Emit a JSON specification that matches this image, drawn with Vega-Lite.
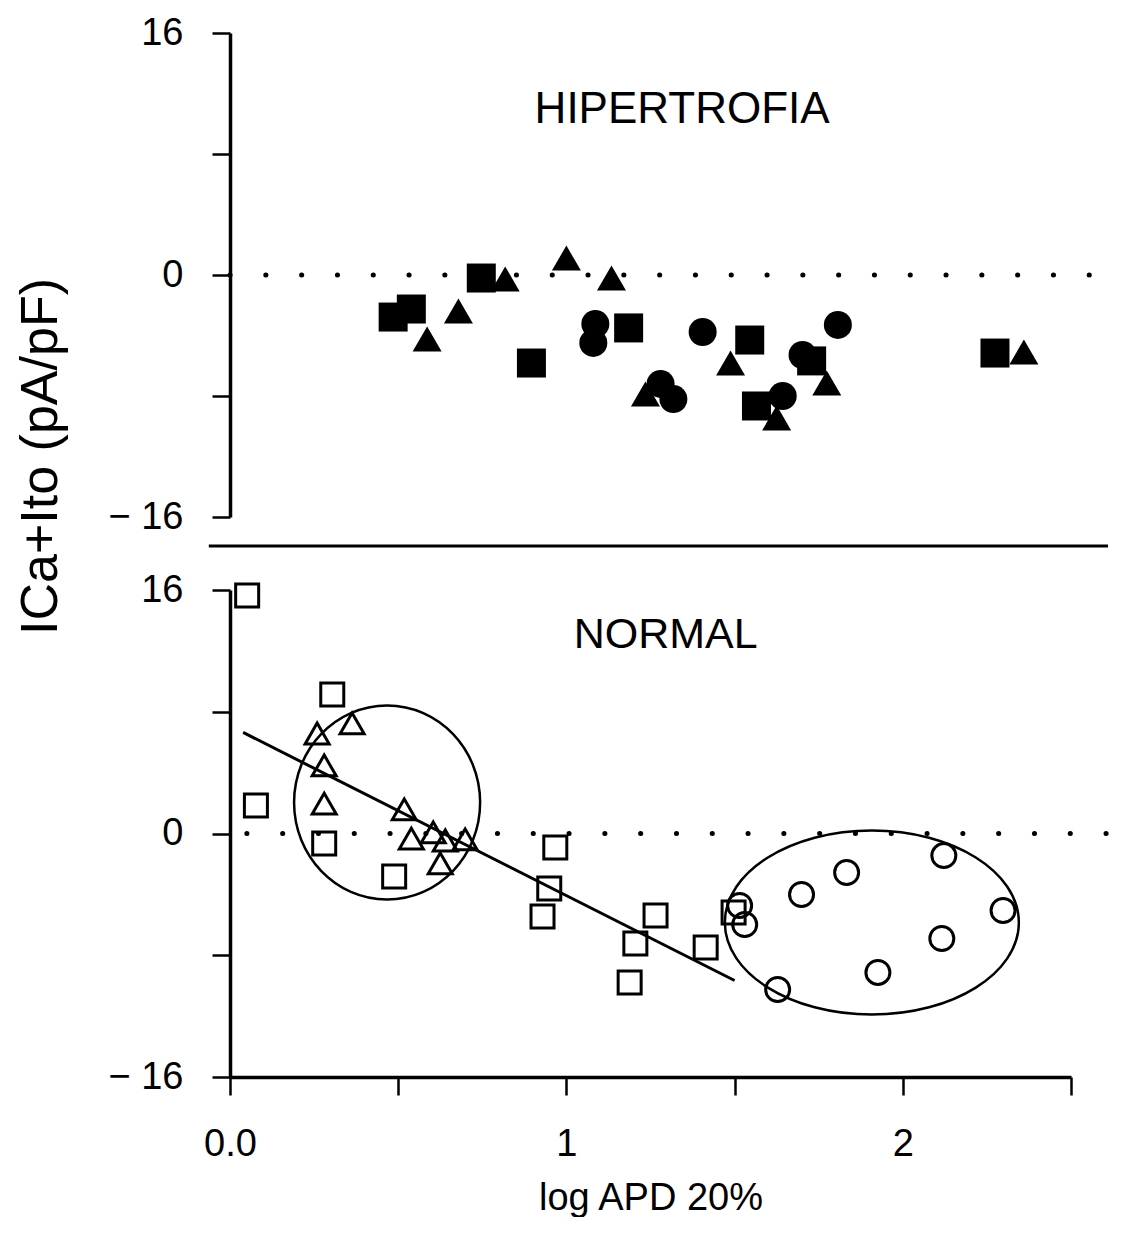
{
  "$schema": "https://vega.github.io/schema/vega-lite/v6.json",
  "padding": {"left": 14, "top": 14, "right": 0, "bottom": 0},
  "background": "white",
  "config": {
    "view": {"stroke": null},
    "font": "Liberation Sans",
    "axis": {
      "domainColor": "black", "tickColor": "black", "labelColor": "black", "titleColor": "black",
      "grid": false, "labelFlush": false, "labelOverlap": false, "labelBound": false,
      "labelFont": "Liberation Sans", "titleFont": "Liberation Sans", "titleFontWeight": "normal"
    }
  },
  "datasets": {
    "hyper": [
      {"x": 0.485, "y": -2.78, "type": "square"},
      {"x": 0.539, "y": -2.25, "type": "square"},
      {"x": 0.747, "y": -0.20, "type": "square"},
      {"x": 0.896, "y": -5.82, "type": "square"},
      {"x": 1.185, "y": -3.50, "type": "square"},
      {"x": 1.545, "y": -4.30, "type": "square"},
      {"x": 1.729, "y": -5.68, "type": "square"},
      {"x": 1.565, "y": -8.66, "type": "square"},
      {"x": 2.274, "y": -5.16, "type": "square"},
      {"x": 0.679, "y": -2.38, "type": "triangle"},
      {"x": 0.586, "y": -4.23, "type": "triangle"},
      {"x": 0.818, "y": -0.26, "type": "triangle"},
      {"x": 1.000, "y": 1.12, "type": "triangle"},
      {"x": 1.134, "y": -0.20, "type": "triangle"},
      {"x": 1.235, "y": -7.87, "type": "triangle"},
      {"x": 1.488, "y": -5.82, "type": "triangle"},
      {"x": 1.774, "y": -7.14, "type": "triangle"},
      {"x": 1.625, "y": -9.45, "type": "triangle"},
      {"x": 2.360, "y": -5.09, "type": "triangle"},
      {"x": 1.086, "y": -3.24, "type": "circle"},
      {"x": 1.080, "y": -4.49, "type": "circle"},
      {"x": 1.405, "y": -3.77, "type": "circle"},
      {"x": 1.280, "y": -7.20, "type": "circle"},
      {"x": 1.318, "y": -8.20, "type": "circle"},
      {"x": 1.702, "y": -5.29, "type": "circle"},
      {"x": 1.807, "y": -3.30, "type": "circle"},
      {"x": 1.643, "y": -8.00, "type": "circle"}
    ],
    "normal": [
      {"x": 0.051, "y": 15.64, "type": "square"},
      {"x": 0.304, "y": 9.13, "type": "square"},
      {"x": 0.077, "y": 1.84, "type": "square"},
      {"x": 0.280, "y": -0.66, "type": "square"},
      {"x": 0.488, "y": -2.83, "type": "square"},
      {"x": 0.967, "y": -0.92, "type": "square"},
      {"x": 0.949, "y": -3.61, "type": "square"},
      {"x": 0.929, "y": -5.45, "type": "square"},
      {"x": 1.265, "y": -5.39, "type": "square"},
      {"x": 1.205, "y": -7.23, "type": "square"},
      {"x": 1.188, "y": -9.79, "type": "square"},
      {"x": 1.414, "y": -7.49, "type": "square"},
      {"x": 1.497, "y": -5.19, "type": "square"},
      {"x": 0.259, "y": 6.57, "type": "triangle"},
      {"x": 0.363, "y": 7.23, "type": "triangle"},
      {"x": 0.280, "y": 4.47, "type": "triangle"},
      {"x": 0.280, "y": 1.97, "type": "triangle"},
      {"x": 0.518, "y": 1.58, "type": "triangle"},
      {"x": 0.539, "y": -0.33, "type": "triangle"},
      {"x": 0.604, "y": 0.07, "type": "triangle"},
      {"x": 0.640, "y": -0.46, "type": "triangle"},
      {"x": 0.625, "y": -1.97, "type": "triangle"},
      {"x": 0.699, "y": -0.39, "type": "triangle"},
      {"x": 1.515, "y": -4.73, "type": "circle"},
      {"x": 1.530, "y": -5.98, "type": "circle"},
      {"x": 1.628, "y": -10.25, "type": "circle"},
      {"x": 1.699, "y": -4.01, "type": "circle"},
      {"x": 1.833, "y": -2.56, "type": "circle"},
      {"x": 2.122, "y": -1.45, "type": "circle"},
      {"x": 2.298, "y": -5.06, "type": "circle"},
      {"x": 2.116, "y": -6.90, "type": "circle"},
      {"x": 1.926, "y": -9.13, "type": "circle"}
    ],
    "fit": [
      {"x": 0.039, "y": 6.64},
      {"x": 1.5, "y": -9.66}
    ],
    "topRefs": [
      {"item": "zero", "x": 0, "x2": 2.66, "y": 0},
      {"item": "separator", "x": -0.063, "x2": 2.61, "y": -17.92}
    ],
    "bottomRefs": [
      {"item": "zero", "x": 0.05, "x2": 2.66, "y": 0}
    ],
    "topLabel": [{"label": "HIPERTROFIA", "x": 1.344, "y": 10.9}],
    "bottomLabel": [{"label": "NORMAL", "x": 1.295, "y": 13.07}],
    "cluster1": [{"x": 0.467, "y": 2.04}],
    "cluster2": [{"x": 1.908, "y": -5.85}]
  },
  "vconcat": [
    {
      "width": 841,
      "height": 484,
      "layer": [
        {
          "data": {"name": "hyper"},
          "transform": [{"filter": "datum.type == 'square'"}],
          "mark": {"type": "point", "shape": "square", "filled": true, "color": "black", "opacity": 1, "size": 841},
          "encoding": {
            "x": {"field": "x", "type": "quantitative", "scale": {"domain": [0, 2.5], "nice": false, "zero": false}, "axis": null},
            "y": {
              "field": "y", "type": "quantitative",
              "scale": {"domain": [-16, 16], "nice": false, "zero": false},
              "axis": {
                "values": [-16, -8, 0, 8, 16],
                "labelExpr": "datum.value == 16 ? '16' : datum.value == 0 ? '0' : datum.value == -16 ? '\u2212 16' : ''",
                "tickSize": 18, "tickWidth": 2.5, "domainWidth": 3.5,
                "labelFontSize": 38, "labelPadding": 29,
                "title": "ICa+Ito (pA/pF)", "titleFontSize": 52,
                "titleX": -190, "titleY": 423, "titleAngle": 270,
                "titleAlign": "center", "titleBaseline": "middle"
              }
            }
          }
        },
        {
          "data": {"name": "hyper"},
          "transform": [{"filter": "datum.type == 'triangle'"}],
          "mark": {"type": "point", "shape": "triangle-up", "filled": true, "color": "black", "opacity": 1, "size": 841},
          "encoding": {
            "x": {"field": "x", "type": "quantitative"},
            "y": {"field": "y", "type": "quantitative"}
          }
        },
        {
          "data": {"name": "hyper"},
          "transform": [{"filter": "datum.type == 'circle'"}],
          "mark": {"type": "point", "shape": "circle", "filled": true, "color": "black", "opacity": 1, "size": 784},
          "encoding": {
            "x": {"field": "x", "type": "quantitative"},
            "y": {"field": "y", "type": "quantitative"}
          }
        },
        {
          "data": {"name": "topRefs"},
          "transform": [{"filter": "datum.item == 'zero'"}],
          "mark": {"type": "rule", "color": "black", "strokeWidth": 5, "strokeCap": "round", "strokeDash": [0.1, 35.7]},
          "encoding": {
            "x": {"field": "x", "type": "quantitative"},
            "x2": {"field": "x2"},
            "y": {"field": "y", "type": "quantitative"}
          }
        },
        {
          "data": {"name": "topRefs"},
          "transform": [{"filter": "datum.item == 'separator'"}],
          "mark": {"type": "rule", "color": "black", "strokeWidth": 3},
          "encoding": {
            "x": {"field": "x", "type": "quantitative"},
            "x2": {"field": "x2"},
            "y": {"field": "y", "type": "quantitative"}
          }
        },
        {
          "data": {"name": "topLabel"},
          "mark": {"type": "text", "font": "Liberation Sans", "fontSize": 44, "align": "center", "baseline": "middle", "color": "black"},
          "encoding": {
            "x": {"field": "x", "type": "quantitative"},
            "y": {"field": "y", "type": "quantitative"},
            "text": {"field": "label"}
          }
        }
      ]
    },
    {
      "width": 841,
      "height": 487,
      "layer": [
        {
          "data": {"name": "normal"},
          "transform": [{"filter": "datum.type == 'square'"}],
          "mark": {"type": "point", "shape": "square", "filled": false, "color": "black", "opacity": 1, "strokeWidth": 3, "size": 529},
          "encoding": {
            "x": {
              "field": "x", "type": "quantitative",
              "scale": {"domain": [0, 2.5], "nice": false, "zero": false},
              "axis": {
                "values": [0, 0.5, 1, 1.5, 2, 2.5],
                "labelExpr": "datum.value == 0 ? '0.0' : datum.value == 1 ? '1' : datum.value == 2 ? '2' : ''",
                "tickSize": 18, "tickWidth": 2.5, "domainWidth": 3.5,
                "labelFontSize": 38, "labelPadding": 30,
                "title": "log APD 20%", "titleFontSize": 38, "titlePadding": 16
              }
            },
            "y": {
              "field": "y", "type": "quantitative",
              "scale": {"domain": [-16, 16], "nice": false, "zero": false},
              "axis": {
                "values": [-16, -8, 0, 8, 16],
                "labelExpr": "datum.value == 16 ? '16' : datum.value == 0 ? '0' : datum.value == -16 ? '\u2212 16' : ''",
                "tickSize": 18, "tickWidth": 2.5, "domainWidth": 3.5,
                "labelFontSize": 38, "labelPadding": 29,
                "title": null
              }
            }
          }
        },
        {
          "data": {"name": "normal"},
          "transform": [{"filter": "datum.type == 'triangle'"}],
          "mark": {"type": "point", "shape": "triangle-up", "filled": false, "color": "black", "opacity": 1, "strokeWidth": 3, "size": 576},
          "encoding": {
            "x": {"field": "x", "type": "quantitative"},
            "y": {"field": "y", "type": "quantitative"}
          }
        },
        {
          "data": {"name": "normal"},
          "transform": [{"filter": "datum.type == 'circle'"}],
          "mark": {"type": "point", "shape": "circle", "filled": false, "color": "black", "opacity": 1, "strokeWidth": 3, "size": 576},
          "encoding": {
            "x": {"field": "x", "type": "quantitative"},
            "y": {"field": "y", "type": "quantitative"}
          }
        },
        {
          "data": {"name": "fit"},
          "mark": {"type": "line", "color": "black", "strokeWidth": 3},
          "encoding": {
            "x": {"field": "x", "type": "quantitative"},
            "y": {"field": "y", "type": "quantitative"}
          }
        },
        {
          "data": {"name": "bottomRefs"},
          "mark": {"type": "rule", "color": "black", "strokeWidth": 5, "strokeCap": "round", "strokeDash": [0.1, 35.7]},
          "encoding": {
            "x": {"field": "x", "type": "quantitative"},
            "x2": {"field": "x2"},
            "y": {"field": "y", "type": "quantitative"}
          }
        },
        {
          "data": {"name": "cluster1"},
          "mark": {"type": "point", "shape": "M-0.959,0C-0.959,-0.5523,-0.5297,-1,0,-1C0.5297,-1,0.959,-0.5523,0.959,0C0.959,0.5523,0.5297,1,0,1C-0.5297,1,-0.959,0.5523,-0.959,0Z", "filled": false, "color": "black", "opacity": 1, "strokeWidth": 2.5, "size": 37636},
          "encoding": {
            "x": {"field": "x", "type": "quantitative"},
            "y": {"field": "y", "type": "quantitative"}
          }
        },
        {
          "data": {"name": "cluster2"},
          "mark": {"type": "point", "shape": "M-1,0C-1,-0.3457,-0.5523,-0.626,0,-0.626C0.5523,-0.626,1,-0.3457,1,0C1,0.3457,0.5523,0.626,0,0.626C-0.5523,0.626,-1,0.3457,-1,0Z", "filled": false, "color": "black", "opacity": 1, "strokeWidth": 2.5, "size": 86436},
          "encoding": {
            "x": {"field": "x", "type": "quantitative"},
            "y": {"field": "y", "type": "quantitative"}
          }
        },
        {
          "data": {"name": "bottomLabel"},
          "mark": {"type": "text", "font": "Liberation Sans", "fontSize": 43, "align": "center", "baseline": "middle", "color": "black"},
          "encoding": {
            "x": {"field": "x", "type": "quantitative"},
            "y": {"field": "y", "type": "quantitative"},
            "text": {"field": "label"}
          }
        }
      ]
    }
  ],
  "spacing": 73,
  "bounds": "flush"
}
